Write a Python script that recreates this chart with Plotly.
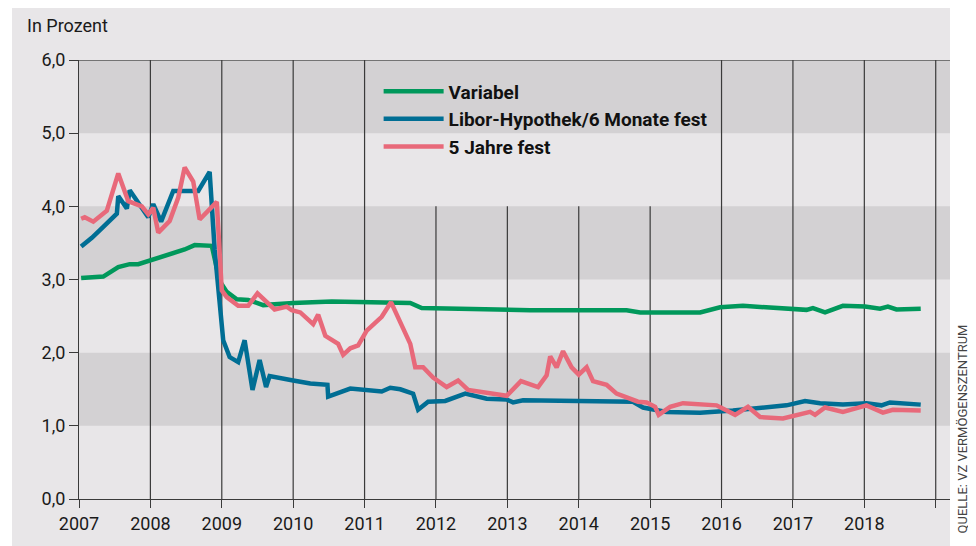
import plotly.graph_objects as go

# ---- data (decimal years, percent) ----
var_x = [2007.03, 2007.34, 2007.55, 2007.71, 2007.83, 2008.0, 2008.16, 2008.34, 2008.48, 2008.62,
         2008.86, 2008.97, 2009.07, 2009.21, 2009.37, 2009.58, 2010.0, 2010.54, 2011.64, 2011.80,
         2012.90, 2013.32, 2014.67, 2014.86, 2015.70, 2015.98, 2016.30, 2017.0, 2017.19, 2017.28,
         2017.45, 2017.70, 2018.01, 2018.22, 2018.33, 2018.45, 2018.79]
var_y = [3.02, 3.04, 3.17, 3.21, 3.21, 3.26, 3.31, 3.37, 3.41, 3.47,
         3.46, 2.98, 2.83, 2.73, 2.72, 2.65, 2.68, 2.70, 2.68, 2.61,
         2.585, 2.58, 2.58, 2.55, 2.55, 2.62, 2.64, 2.585, 2.585, 2.61,
         2.55, 2.64, 2.63, 2.60, 2.63, 2.59, 2.60]

libor_x = [2007.03, 2007.18, 2007.34, 2007.53, 2007.55, 2007.67, 2007.71, 2007.81, 2007.97, 2008.04,
           2008.15, 2008.32, 2008.44, 2008.67, 2008.83, 2008.90, 2009.02, 2009.11, 2009.23, 2009.32,
           2009.43, 2009.53, 2009.62, 2009.67, 2010.0, 2010.24, 2010.48, 2010.49, 2010.80, 2011.24,
           2011.36, 2011.50, 2011.68, 2011.75, 2011.89, 2012.13, 2012.41, 2012.71, 2012.99, 2013.08,
           2013.22, 2014.76, 2014.90, 2015.09, 2015.23, 2015.70, 2016.16, 2016.91, 2017.17, 2017.38,
           2017.70, 2018.03, 2018.24, 2018.36, 2018.79]
libor_y = [3.45, 3.57, 3.72, 3.90, 4.14, 3.97, 4.22, 4.07, 3.85, 4.03,
           3.79, 4.21, 4.21, 4.21, 4.47, 3.41, 2.17, 1.94, 1.87, 2.17,
           1.49, 1.90, 1.53, 1.68, 1.62, 1.58, 1.56, 1.40, 1.51, 1.47,
           1.52, 1.50, 1.44, 1.22, 1.33, 1.34, 1.44, 1.37, 1.36, 1.32,
           1.35, 1.33, 1.25, 1.21, 1.19, 1.18, 1.21, 1.28, 1.34, 1.31,
           1.29, 1.31, 1.28, 1.32, 1.29]

fix5_x = [2007.03, 2007.08, 2007.20, 2007.39, 2007.55, 2007.69, 2007.88, 2007.97, 2008.04, 2008.11,
          2008.27, 2008.39, 2008.48, 2008.60, 2008.69, 2008.83, 2008.93, 2009.0, 2009.07, 2009.23,
          2009.37, 2009.50, 2009.65, 2009.74, 2009.91, 2009.98, 2010.10, 2010.28, 2010.35, 2010.45,
          2010.63, 2010.70, 2010.80, 2010.91, 2011.03, 2011.24, 2011.37, 2011.52, 2011.64, 2011.71,
          2011.82, 2011.96, 2012.15, 2012.31, 2012.45, 2012.99, 2013.19, 2013.43, 2013.55, 2013.60,
          2013.69, 2013.78, 2013.90, 2014.00, 2014.11, 2014.20, 2014.39, 2014.53, 2014.69, 2014.83,
          2014.95, 2015.07, 2015.12, 2015.28, 2015.46, 2015.93, 2016.19, 2016.37, 2016.54, 2016.86,
          2017.24, 2017.31, 2017.45, 2017.70, 2018.03, 2018.26, 2018.40, 2018.79]
fix5_y = [3.83, 3.85, 3.79, 3.94, 4.45, 4.07, 4.00, 3.89, 3.98, 3.64,
          3.80, 4.12, 4.53, 4.34, 3.82, 3.96, 4.06, 2.85, 2.76, 2.64,
          2.64, 2.81, 2.68, 2.59, 2.63, 2.58, 2.55, 2.39, 2.52, 2.23,
          2.12, 1.97, 2.06, 2.10, 2.30, 2.49, 2.69, 2.39, 2.12, 1.80,
          1.80, 1.66, 1.53, 1.62, 1.49, 1.41, 1.61, 1.53, 1.69, 1.95,
          1.80, 2.02, 1.80, 1.70, 1.80, 1.61, 1.56, 1.44, 1.38, 1.33,
          1.32, 1.26, 1.15, 1.26, 1.31, 1.28, 1.15, 1.26, 1.12, 1.10,
          1.19, 1.15, 1.25, 1.19, 1.28, 1.18, 1.22, 1.21]

series_names = ["Variabel", "Libor-Hypothek/6 Monate fest", "5 Jahre fest"]
series_colors = ["#00985b", "#006e94", "#e8697a"]

year_ticks = list(range(2007, 2020))
year_labels = [str(y) for y in range(2007, 2019)] + [""]
y_ticks = [0, 1, 2, 3, 4, 5, 6]

PANEL = "#e8e6e8"
PINK = "#eee1e8"
GRAY = "#d3d1d3"
LINE = "#3a3a3a"
FONT = "Roboto, 'DejaVu Sans', sans-serif"

fig = go.Figure()
for xs, ys, name, col in zip([var_x, libor_x, fix5_x], [var_y, libor_y, fix5_y],
                             series_names, series_colors):
    fig.add_trace(go.Scatter(x=xs, y=ys, mode="lines", name=name,
                             line=dict(color=col, width=4.5), hoverinfo="skip"))

shapes = []
# outer grey panel
shapes.append(dict(type="rect", xref="paper", yref="paper", x0=-0.0769, x1=1.0,
                   y0=-0.12, y1=1.13, fillcolor=PANEL, line=dict(width=0), layer="below"))
# grey bands
for lo in [1, 3, 5]:
    shapes.append(dict(type="rect", xref="paper", yref="y", x0=0, x1=1, y0=lo, y1=lo + 1,
                       fillcolor=GRAY, line=dict(width=0), layer="below"))
# vertical year lines
for yr in year_ticks[1:]:
    top = 4 if 2012 <= yr <= 2015 else 6
    shapes.append(dict(type="line", xref="x", yref="y", x0=yr, x1=yr, y0=0, y1=top,
                       line=dict(color=LINE, width=1.2), layer="below"))
# top border
shapes.append(dict(type="line", xref="paper", yref="y", x0=0, x1=1, y0=6, y1=6,
                   line=dict(color="#555555", width=1.5), layer="below"))

annotations = [
    dict(text="In Prozent", xref="paper", yref="paper", x=-0.0625, y=1.079,
         xanchor="left", yanchor="middle", showarrow=False,
         font=dict(family=FONT, size=18, color="#1a1a1a")),
    dict(text="QUELLE: VZ VERMÖGENSZENTRUM", xref="paper", yref="paper", x=1.0145, y=0.16,
         xanchor="center", yanchor="middle", textangle=-90, showarrow=False,
         font=dict(family=FONT, size=13, color="#444444")),
]

fig.update_layout(
    width=968, height=538,
    margin=dict(l=71, r=26, t=52, b=45),
    paper_bgcolor="white", plot_bgcolor=PINK,
    separators=",.",
    showlegend=True,
    legend=dict(x=0.344, y=0.972, xanchor="left", yanchor="top",
                bgcolor="rgba(0,0,0,0)", itemwidth=60, tracegroupgap=0,
                font=dict(family=FONT, size=19, color="#111111", weight="bold")),
    shapes=shapes, annotations=annotations,
    xaxis=dict(range=[2007, 2019.2], tickvals=year_ticks, ticktext=year_labels,
               showgrid=False, zeroline=False, showline=True, linecolor=LINE, linewidth=1.2,
               ticks="outside", ticklen=8, tickcolor=LINE, tickwidth=1.2,
               tickfont=dict(family=FONT, size=18, color="#1a1a1a")),
    yaxis=dict(range=[0, 6], tickvals=y_ticks, tickformat=".1f",
               showgrid=False, zeroline=False, showline=True, linecolor=LINE, linewidth=1.2,
               ticks="outside", ticklen=9, tickcolor=LINE, tickwidth=1.2,
               tickfont=dict(family=FONT, size=18, color="#1a1a1a")),
)

fig.write_html("out.html")
